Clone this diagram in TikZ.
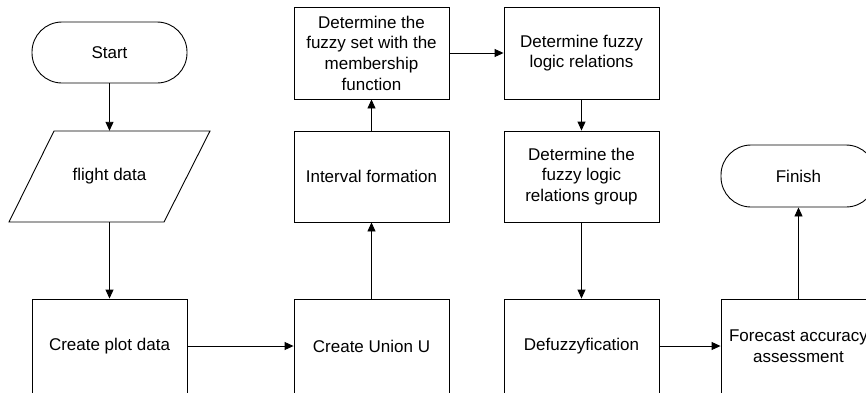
\documentclass[tikz,border=0pt]{standalone}
\usepackage{fontspec}
\setmainfont{Liberation Sans}
\usetikzlibrary{arrows.meta}
\newcommand\boxfont{\fontsize{17}{20.7}\selectfont}
\begin{document}
\begin{tikzpicture}[x=1pt,y=-1pt,
  box/.style={draw, line width=0.9pt, minimum width=155pt, minimum height=92pt, align=center, inner sep=0pt, font=\boxfont},
  term/.style={draw, line width=0.9pt, rounded corners=30pt, minimum width=155pt, minimum height=61pt, inner sep=0pt, font=\boxfont},
  plain/.style={minimum width=110pt, minimum height=91pt, inner sep=0pt, font=\boxfont},
  shapeline/.style={line width=0.9pt},
  arr/.style={-{Triangle[length=9pt,width=8pt]}, line width=0.9pt}]
\clip (0,0) rectangle (866,392);
\node[term] (start) at (109.5,52.5) {Start};
\node[plain] (fd) at (109.5,176.5) {flight data};
\draw[shapeline] (54,131) -- (210,131) -- (164,222) -- (9,222) -- cycle;
\node[box, minimum height=94pt] (cpd) at (109.5,346) {Create plot data};
\node[box, minimum height=94pt] (cu) at (371.5,346) {Create Union U};
\node[box, minimum height=91pt] (iv) at (371.5,176.5) {Interval formation};
\node[box] (fs) at (371.5,53) {Determine the\\fuzzy set with the\\membership\\function};
\node[box] (fr) at (581.5,53) {Determine fuzzy\\logic relations};
\node[box, minimum height=91pt] (fg) at (581.5,176.5) {Determine the\\fuzzy logic\\relations group};
\node[box, minimum height=94pt] (df) at (581.5,346) {Defuzzyfication};
\node[box, minimum height=94pt] (fa) at (798.5,346) {Forecast accuracy\\assessment};
\node[term, minimum height=62pt] (fin) at (798.5,176) {Finish};
\draw[arr] (start) -- (fd.north);
\draw[arr] (fd.south) -- (cpd);
\draw[arr] (cpd) -- (cu);
\draw[arr] (cu) -- (iv);
\draw[arr] (iv) -- (fs);
\draw[arr] (fs) -- (fr);
\draw[arr] (fr) -- (fg);
\draw[arr] (fg) -- (df);
\draw[arr] (df) -- (fa);
\draw[arr] (fa) -- (fin);
\end{tikzpicture}
\end{document}
